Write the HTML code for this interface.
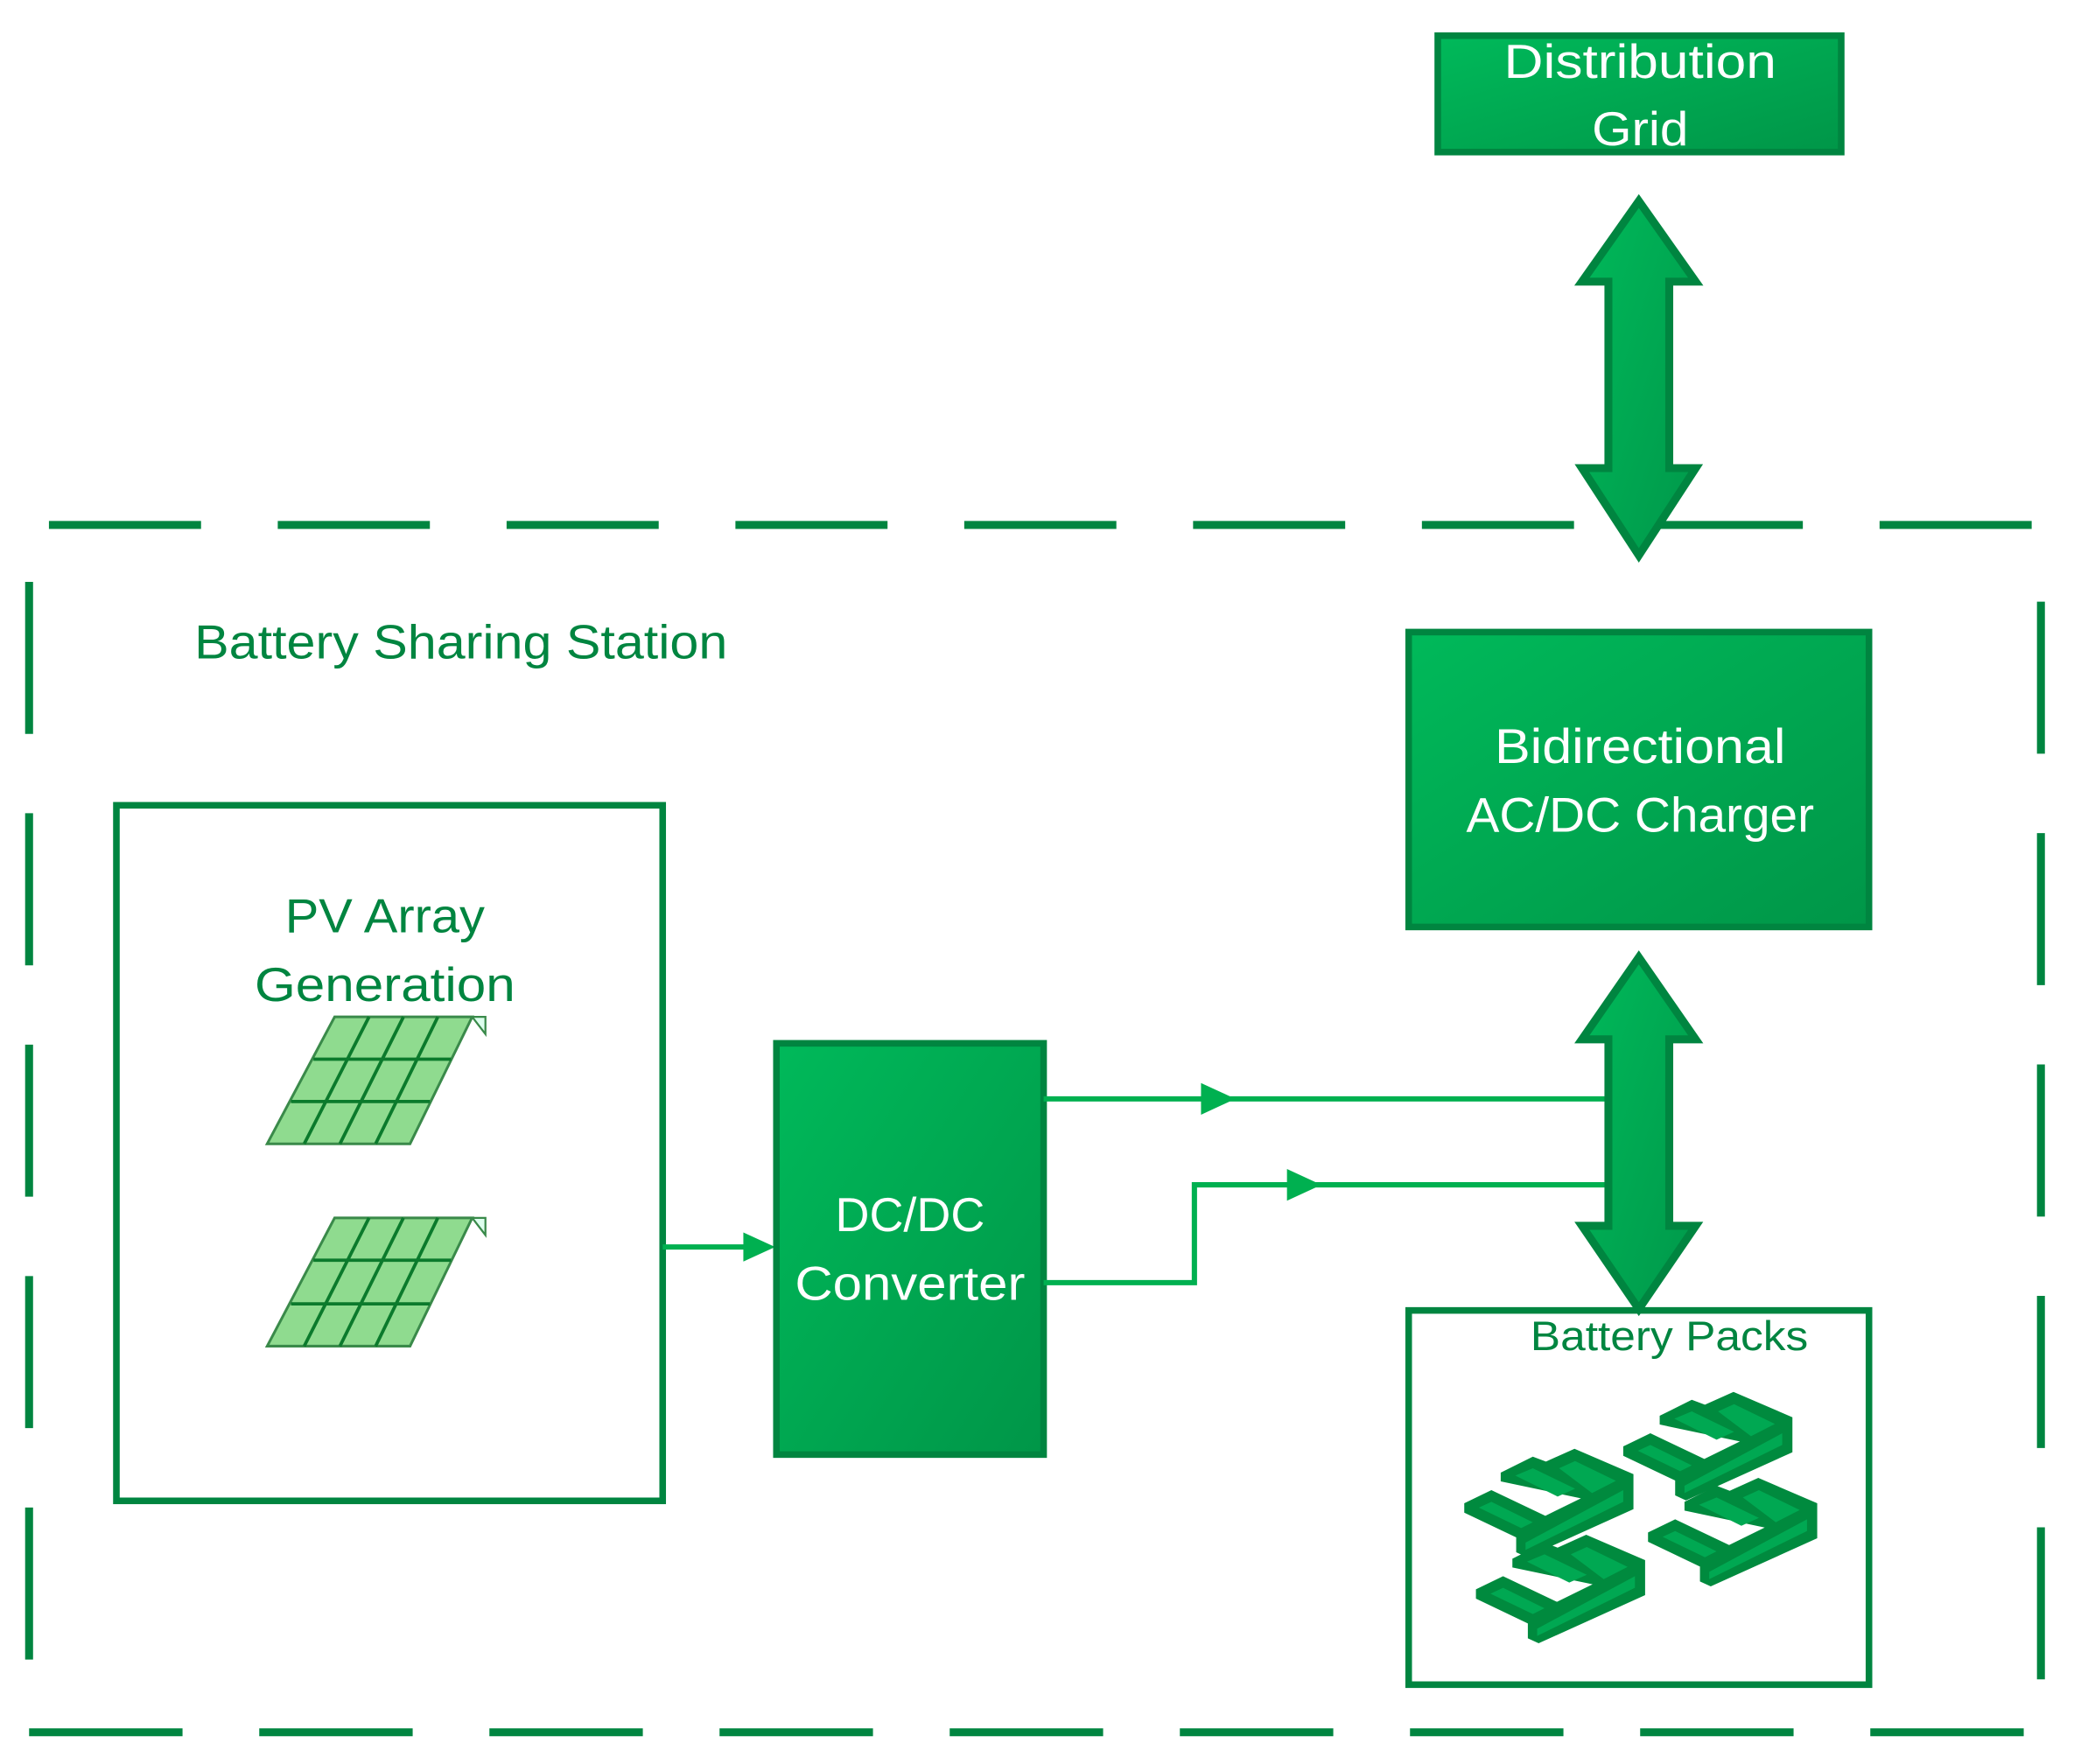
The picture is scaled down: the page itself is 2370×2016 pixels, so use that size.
<!DOCTYPE html>
<html><head><meta charset="utf-8"><style>
html,body{margin:0;padding:0;background:#fff}
svg{display:block}
text{font-family:"Liberation Sans",sans-serif}
</style></head><body>
<svg width="2370" height="2016" viewBox="0 0 1568 1334" preserveAspectRatio="none" xmlns="http://www.w3.org/2000/svg">
<defs>
<linearGradient id="g" x1="0" y1="0" x2="1" y2="1">
<stop offset="0" stop-color="#00b95a"/><stop offset="1" stop-color="#009648"/></linearGradient>
<linearGradient id="ga" x1="0" y1="0" x2="1" y2="1">
<stop offset="0" stop-color="#00b95a"/><stop offset="1" stop-color="#00984a"/></linearGradient>
<g id="bu">
<polygon points="40,445 133,400 318,488 440,428 165,370 165,340 275,285 320,302 418,258 620,345 620,465 255,630 218,613 218,562 40,477" fill="#008a3e"/>
<polygon points="250,580 585,400 585,440 250,605" fill="#00a852"/>
<polygon points="90,460 133,440 275,510 235,530" fill="#00a852"/>
<polygon points="215,350 275,325 420,395 360,422" fill="#00a852"/>
<polygon points="365,325 420,300 560,368 478,410" fill="#00a852"/>
</g>
</defs>
<g stroke="#008540" stroke-width="6" fill="none">
<line x1="37" y1="397" x2="1543" y2="397" stroke-dasharray="115 58"/>
<line x1="22" y1="440" x2="22" y2="1255" stroke-dasharray="115 60"/>
<line x1="1543" y1="455" x2="1543" y2="1290" stroke-dasharray="115 60"/>
<line x1="22" y1="1310" x2="1530" y2="1310" stroke-dasharray="116 58"/>
</g>
<rect x="1087" y="27" width="305" height="88" fill="url(#g)" stroke="#008540" stroke-width="5"/>
<text x="1240" y="59" font-size="36" fill="#fff" text-anchor="middle" textLength="206" lengthAdjust="spacingAndGlyphs">Distribution</text>
<text x="1240" y="110" font-size="36" fill="#fff" text-anchor="middle" textLength="73" lengthAdjust="spacingAndGlyphs">Grid</text>
<polygon points="1239,152 1282,213 1262,213 1262,354 1282,354 1239,420 1196,354 1216,354 1216,213 1196,213" fill="url(#ga)" stroke="#008540" stroke-width="6"/>
<text x="147" y="498" font-size="36" fill="#008540" textLength="403" lengthAdjust="spacingAndGlyphs">Battery Sharing Station</text>
<rect x="1065" y="478" width="348" height="223" fill="url(#g)" stroke="#008540" stroke-width="5"/>
<text x="1240" y="577" font-size="37" fill="#fff" text-anchor="middle" textLength="220" lengthAdjust="spacingAndGlyphs">Bidirectional</text>
<text x="1240" y="629" font-size="37" fill="#fff" text-anchor="middle" textLength="263" lengthAdjust="spacingAndGlyphs">AC/DC Charger</text>
<rect x="88" y="609" width="413" height="526" fill="none" stroke="#008540" stroke-width="5"/>
<text x="291" y="705" font-size="36" fill="#008540" text-anchor="middle" textLength="151" lengthAdjust="spacingAndGlyphs">PV Array</text>
<text x="291" y="757" font-size="36" fill="#008540" text-anchor="middle" textLength="197" lengthAdjust="spacingAndGlyphs">Generation</text>
<g>
<polygon points="253,769 357,769 310,865 202,865" fill="#8fdb8f" stroke="#3a8a4a" stroke-width="2"/>
<polygon points="357,769 367,769 367,782" fill="#dfe" stroke="#3a8a4a" stroke-width="1.5"/>
<g stroke="#0b7a2c" stroke-width="2.5">
<line x1="237" y1="801" x2="341" y2="801"/><line x1="220" y1="833" x2="325" y2="833"/>
<line x1="279" y1="769" x2="230" y2="865"/><line x1="305" y1="769" x2="257" y2="865"/><line x1="331" y1="769" x2="284" y2="865"/>
</g>
<polygon points="253,921 357,921 310,1018 202,1018" fill="#8fdb8f" stroke="#3a8a4a" stroke-width="2"/>
<polygon points="357,921 367,921 367,934" fill="#dfe" stroke="#3a8a4a" stroke-width="1.5"/>
<g stroke="#0b7a2c" stroke-width="2.5">
<line x1="237" y1="953" x2="341" y2="953"/><line x1="220" y1="986" x2="325" y2="986"/>
<line x1="279" y1="921" x2="230" y2="1018"/><line x1="305" y1="921" x2="257" y2="1018"/><line x1="331" y1="921" x2="284" y2="1018"/>
</g>
</g>
<line x1="501" y1="943" x2="570" y2="943" stroke="#00b050" stroke-width="4"/>
<polygon points="562,932 586,943 562,954" fill="#00b050"/>
<rect x="587" y="789" width="202" height="311" fill="url(#g)" stroke="#008540" stroke-width="5"/>
<text x="688" y="931" font-size="36" fill="#fff" text-anchor="middle" textLength="113" lengthAdjust="spacingAndGlyphs">DC/DC</text>
<text x="688" y="983" font-size="36" fill="#fff" text-anchor="middle" textLength="174" lengthAdjust="spacingAndGlyphs">Converter</text>
<g stroke="#00b050" stroke-width="4" fill="none">
<polyline points="789,831 1218,831"/>
<polyline points="789,970 903,970 903,896 1218,896"/>
</g>
<polygon points="908,819 934,831 908,843" fill="#00b050"/>
<polygon points="973,884 999,896 973,908" fill="#00b050"/>
<polygon points="1239,724 1282,786 1262,786 1262,927 1282,927 1239,990 1196,927 1216,927 1216,786 1196,786" fill="url(#ga)" stroke="#008540" stroke-width="6"/>
<rect x="1065" y="991" width="348" height="283" fill="none" stroke="#008540" stroke-width="5"/>
<text x="1262" y="1021" font-size="31" fill="#008540" text-anchor="middle" textLength="210" lengthAdjust="spacingAndGlyphs">Battery Packs</text>
<g transform="translate(1098.2,1038.7) scale(0.22053)">
<use href="#bu"/>
<use href="#bu" transform="translate(40,295)"/>
<use href="#bu" transform="translate(545,-195)"/>
<use href="#bu" transform="translate(630,100)"/>
</g>
</svg>
</body></html>
